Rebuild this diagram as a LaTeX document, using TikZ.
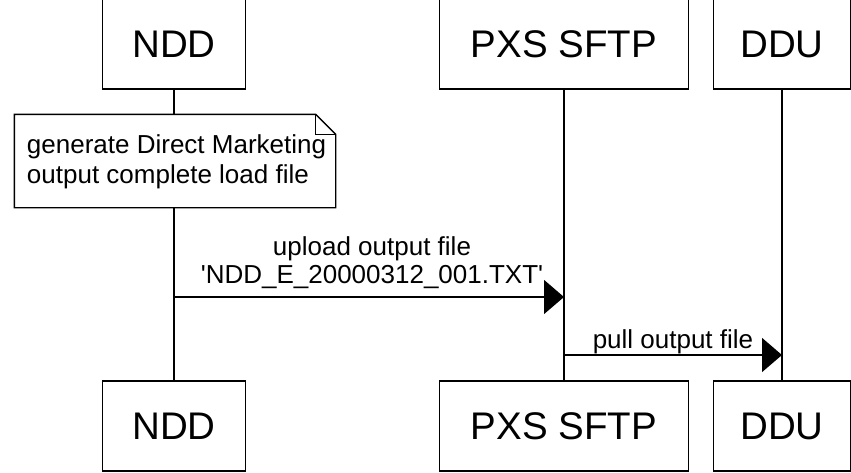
\documentclass[tikz,border=0pt]{standalone}
\usepackage{fontspec}
\setmainfont{Liberation Sans}
\usetikzlibrary{arrows.meta}

\begin{document}
\begin{tikzpicture}[x=1pt,y=-1pt,
  line width=1.4pt,
  actor/.style={draw, fill=white, minimum height=90pt, inner sep=0pt,
    font=\fontsize{38.5}{40}\selectfont},
  lifeline/.style={draw},
  msg/.style={draw, -{Triangle[length=20pt,width=34pt]}},
  msglabel/.style={font=\fontsize{26}{28}\selectfont, align=center, inner sep=0pt},
  notebox/.style={minimum width=320pt, minimum height=92pt, inner sep=0pt},
  notetext/.style={font=\fontsize{26}{29.5}\selectfont, align=left, inner sep=0pt}
]
\useasboundingbox (0,0) rectangle (851,472);

% participants, top row
\node[actor, minimum width=143pt] (nddT) at (174,44) {NDD};
\node[actor, minimum width=249pt] (pxsT) at (564,44) {PXS SFTP};
\node[actor, minimum width=137pt] (dduT) at (782,44) {DDU};

% participants, bottom row
\node[actor, minimum width=143pt] (nddB) at (174,426) {NDD};
\node[actor, minimum width=249pt] (pxsB) at (564,426) {PXS SFTP};
\node[actor, minimum width=137pt] (dduB) at (782,426) {DDU};

% lifelines
\draw[lifeline] (nddT) -- (nddB);
\draw[lifeline] (pxsT) -- (pxsB);
\draw[lifeline] (dduT) -- (dduB);

% note on NDD with a folded corner
\node[notebox] (note) at (175,161) {};
\filldraw[fill=white] (note.north west) -- ([xshift=-20pt]note.north east)
  -- ([yshift=-20pt]note.north east) -- (note.south east) -- (note.south west) -- cycle;
\draw ([xshift=-20pt]note.north east) -- ([xshift=-20pt,yshift=-20pt]note.north east)
  -- ([yshift=-20pt]note.north east);
\node[notetext, anchor=west] (notetxt) at ([xshift=12pt,yshift=-1pt]note.west)
  {generate Direct Marketing\\output complete load file};

% messages
\coordinate (m1) at (0,297);
\coordinate (m2) at (0,355);
\draw[msg] (nddT |- m1) -- node[msglabel, above=8pt, xshift=3pt] (l1)
  {upload output file\\\textquotesingle NDD\_E\_20000312\_001.TXT\textquotesingle} (pxsT |- m1);
\draw[msg] (pxsT |- m2) -- node[msglabel, above=0pt] (l2) {pull output file} (dduT |- m2);
\end{tikzpicture}
\end{document}
